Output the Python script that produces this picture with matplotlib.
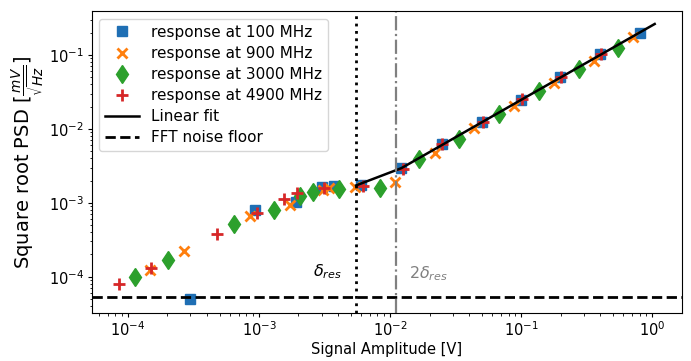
import matplotlib
matplotlib.use("Agg")
import matplotlib.pyplot as plt

# values
x_100 = [3.0e-4, 9.4e-4, 1.9e-3, 3.0e-3, 3.75e-3, 6.0e-3, 1.22e-2, 2.47e-2, 5.0e-2, 0.099, 0.197, 0.397, 0.80]
y_100 = [5.0e-5, 8.1e-4, 1.04e-3, 1.62e-3, 1.71e-3, 1.74e-3, 2.93e-3, 6.25e-3, 1.23e-2, 2.46e-2, 5.08e-2, 0.102, 0.197]

x_900 = [1.48e-4, 2.66e-4, 8.5e-4, 1.71e-3, 3.05e-3, 3.44e-3, 5.41e-3, 1.09e-2, 2.2e-2, 4.38e-2, 8.8e-2, 0.177, 0.357, 0.712]
y_900 = [1.23e-4, 2.23e-4, 6.6e-4, 9.2e-4, 1.49e-3, 1.57e-3, 1.65e-3, 1.93e-3, 4.68e-3, 1.02e-2, 2.04e-2, 4.22e-2, 8.4e-2, 0.174]

x_3000 = [1.14e-4, 2.01e-4, 6.44e-4, 1.29e-3, 2.06e-3, 2.6e-3, 4.1e-3, 8.4e-3, 1.67e-2, 3.36e-2, 6.8e-2, 0.136, 0.273, 0.547]
y_3000 = [9.8e-5, 1.67e-4, 5.1e-4, 8.1e-4, 1.24e-3, 1.4e-3, 1.55e-3, 1.57e-3, 3.92e-3, 7.2e-3, 1.58e-2, 3.26e-2, 6.4e-2, 0.126]

x_4900 = [8.5e-5, 1.5e-4, 4.8e-4, 9.6e-4, 1.56e-3, 1.95e-3, 3.14e-3, 6.25e-3, 1.26e-2, 2.5e-2, 5.07e-2, 0.1005, 0.2, 0.403]
y_4900 = [8.0e-5, 1.3e-4, 3.8e-4, 7.2e-4, 1.11e-3, 1.35e-3, 1.6e-3, 1.71e-3, 2.86e-3, 6.25e-3, 1.23e-2, 2.52e-2, 5.08e-2, 0.103]

fit_x = [5.5e-3, 1.22e-2, 0.1, 1.04]
fit_y = [1.72e-3, 2.95e-3, 2.48e-2, 0.263]

noise_floor = 5.3e-5
delta_res = 5.5e-3

fig = plt.figure(figsize=(6.91, 3.61), dpi=100)
ax = fig.add_axes([0.1327, 0.133, 0.8538, 0.8365])

ax.plot(x_100, y_100, "s", color="#1f6fb4", ms=7, label="response at 100 MHz")
ax.plot(x_900, y_900, "x", color="#ff7f0e", ms=7, mew=2, label="response at 900 MHz")
ax.plot(x_3000, y_3000, "d", color="#2ca02c", ms=9.5, label="response at 3000 MHz")
ax.plot(x_4900, y_4900, "+", color="#d62728", ms=8, mew=2, label="response at 4900 MHz")
ax.plot(fit_x, fit_y, "k-", lw=1.8, label="Linear fit")
ax.axhline(noise_floor, color="k", ls="--", lw=2, label="FFT noise floor")
ax.axvline(delta_res, color="k", ls=":", lw=2)
ax.axvline(2 * delta_res, color="gray", ls="-.", lw=1.6)

ax.text(3.3e-3, 1.16e-4, r"$\delta_{res}$", ha="center", va="center", fontsize=11.5)
ax.text(1.95e-2, 1.1e-4, r"$2\delta_{res}$", ha="center", va="center", fontsize=11.5, color="gray")

ax.set_xscale("log")
ax.set_yscale("log")
ax.set_xlim(5.3e-5, 1.67)
ax.set_ylim(3.23e-5, 0.394)
ax.set_xlabel("Signal Amplitude [V]", fontsize=10.5, labelpad=2)
ax.set_ylabel(r"Square root PSD [$\frac{mV}{\sqrt{Hz}}$]", fontsize=14, labelpad=1)
ax.tick_params(labelsize=10.5, length=3, pad=2.5)
ax.tick_params(which="minor", length=1.8)
ax.legend(loc="upper left", fontsize=11, labelspacing=0.4, handlelength=2.2)

fig.savefig("out.png", dpi=100)
